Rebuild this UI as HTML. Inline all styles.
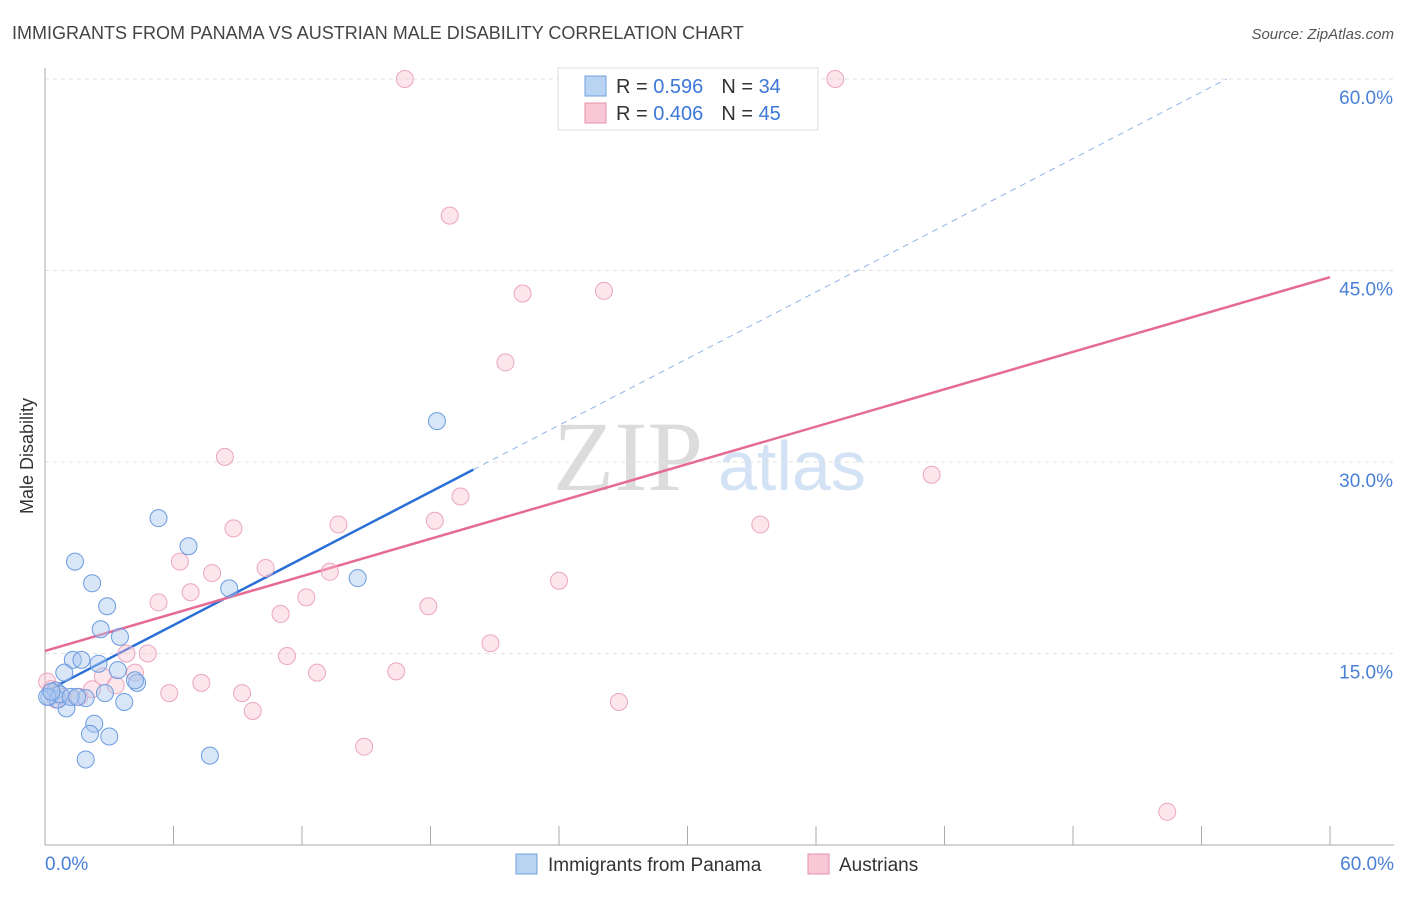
<!DOCTYPE html>
<html><head><meta charset="utf-8"><style>
body{margin:0;background:#fff;font-family:"Liberation Sans",sans-serif}
svg text{font-family:"Liberation Sans",sans-serif}
</style></head><body>
<svg id="chart" width="1406" height="892" xmlns="http://www.w3.org/2000/svg">
<text x="12" y="39" font-size="18" fill="#444">IMMIGRANTS FROM PANAMA VS AUSTRIAN MALE DISABILITY CORRELATION CHART</text>
<text x="1394" y="39" font-size="15" fill="#555" font-style="italic" text-anchor="end">Source: ZipAtlas.com</text>
<text x="33" y="456" font-size="18" fill="#333" transform="rotate(-90 33 456)" text-anchor="middle">Male Disability</text>
<text x="553" y="490" font-size="100" fill="#dcdcdc" style="font-family:'Liberation Serif',serif">ZIP</text>
<text x="718" y="490" font-size="70" fill="#d3e2f4">atlas</text>
<g id="grid"></g><g id="axes"></g><g id="lines"></g><g id="pts"></g>
<g>
<rect x="558" y="68" width="260" height="62" fill="#fff" stroke="#ddd"/>
<rect x="585" y="76" width="21" height="20" fill="#b9d3f3" stroke="#6fa0de"/>
<rect x="585" y="103" width="21" height="20" fill="#f9c8d6" stroke="#e592ad"/>
<text x="616" y="93" font-size="20" fill="#333">R = <tspan fill="#3b78d8">0.596</tspan><tspan dx="18">N = </tspan><tspan fill="#3b78d8">34</tspan></text>
<text x="616" y="120" font-size="20" fill="#333">R = <tspan fill="#3b78d8">0.406</tspan><tspan dx="18">N = </tspan><tspan fill="#3b78d8">45</tspan></text>
</g>
<g>
<rect x="516" y="854" width="21" height="20" fill="#b9d3f3" stroke="#6fa0de"/>
<text x="548" y="871" font-size="19" fill="#333">Immigrants from Panama</text>
<rect x="808" y="854" width="21" height="20" fill="#f9c8d6" stroke="#e592ad"/>
<text x="839" y="871" font-size="19" fill="#333">Austrians</text>
</g>
</svg>
<script>
const yTicks=[15,30,45,60];
const xTickLabels=["0.0%","60.0%"];
const blueX=[5.3,6.7,1.4,2.2,2.9,2.6,3.5,8.6,14.6,18.3,1.3,1.7,2.5,0.9,3.4,4.3,4.2,2.8,3.7,1.9,1.0,0.2,0.5,0.6,0.7,1.2,1.5,2.3,2.1,3.0,1.9,7.7,0.1,0.3];
const blueY=[25.6,23.4,22.2,20.5,18.7,16.9,16.3,20.1,20.9,33.2,14.5,14.5,14.2,13.5,13.7,12.7,12.9,11.9,11.2,11.5,10.7,11.6,12.1,11.4,11.8,11.6,11.6,9.5,8.7,8.5,6.7,7.0,11.6,12.0];
const pinkX=[16.8,36.9,18.9,22.3,26.1,21.5,8.4,41.4,19.4,18.2,8.8,13.7,33.4,6.3,7.8,10.3,13.3,24.0,5.3,6.8,12.2,17.9,11.0,20.8,3.8,4.8,11.3,12.7,16.4,2.7,4.2,3.3,5.8,7.3,9.2,9.7,26.8,14.9,52.4,0.1,0.3,0.8,1.6,2.2,0.5];
const pinkY=[60.0,60.0,49.3,43.2,43.4,37.8,30.4,29.0,27.3,25.4,24.8,25.1,25.1,22.2,21.3,21.7,21.4,20.7,19.0,19.8,19.4,18.7,18.1,15.8,15.0,15.0,14.8,13.5,13.6,13.2,13.5,12.5,11.9,12.7,11.9,10.5,11.2,7.7,2.6,12.8,12.2,11.6,11.6,12.2,11.4];
const blueTrend=[12.0,0.87], pinkTrend=[15.2,0.488];
const X=v=>45+v/60*1285, Y=v=>845-v/60*766;
const NS="http://www.w3.org/2000/svg";
function mk(t,a,p){const e=document.createElementNS(NS,t);for(const k in a)e.setAttribute(k,a[k]);p.appendChild(e);return e;}
const g=document.getElementById('grid'),ax=document.getElementById('axes'),ln=document.getElementById('lines'),pt=document.getElementById('pts');
yTicks.forEach(v=>{const l=mk('line',{x1:45,x2:1394,y1:Y(v),y2:Y(v),stroke:'#e2e2e2','stroke-dasharray':'4,4'},g);


const t=mk('text',{x:1393,y:Y(v)+25,'font-size':19,fill:'#4a80d6','text-anchor':'end'},ax);t.textContent=v.toFixed(1)+'%';

});
const xa=mk('line',{x1:45,x2:1394,y1:845,y2:845,stroke:'#aaa'},ax);


const ya=mk('line',{x1:45,x2:45,y1:68,y2:845,stroke:'#aaa'},ax);


for(let i=1;i<=10;i++){const x=X(i*6);const tk=mk('line',{x1:x,x2:x,y1:826,y2:845,stroke:'#aaa'},ax);

}
[[0,'start',45],[60,'end',1394]].forEach((d,i)=>{const t=mk('text',{x:d[2],y:870,'font-size':19,fill:'#4a80d6','text-anchor':d[1]},ax);t.textContent=xTickLabels[i];

});
function addPts(xs,ys,fill,stroke,name){xs.forEach((x,i)=>{const c=mk('circle',{cx:X(x),cy:Y(ys[i]),r:8.5,fill:fill,stroke:stroke,'stroke-width':1},pt);

});}
addPts(pinkX,pinkY,'rgba(249,190,208,0.4)','#eba6bd','austrians-point');
addPts(blueX,blueY,'rgba(168,200,240,0.45)','#6b9be0','panama-point');
const bEnd=20.0, bY=x=>blueTrend[0]+blueTrend[1]*x;
const b1=mk('line',{x1:X(0),y1:Y(bY(0)),x2:X(bEnd),y2:Y(bY(bEnd)),stroke:'#2a6fd6','stroke-width':2.5},ln);


const xe=(60-blueTrend[0])/blueTrend[1];
const b2=mk('line',{x1:X(bEnd),y1:Y(bY(bEnd)),x2:X(xe),y2:Y(60),stroke:'#8fb3e6','stroke-width':1,'stroke-dasharray':'6,5'},ln);


const p1=mk('line',{x1:X(0),y1:Y(pinkTrend[0]),x2:X(60),y2:Y(pinkTrend[0]+pinkTrend[1]*60),stroke:'#e56b95','stroke-width':2.5},ln);


</script>
</body></html>
